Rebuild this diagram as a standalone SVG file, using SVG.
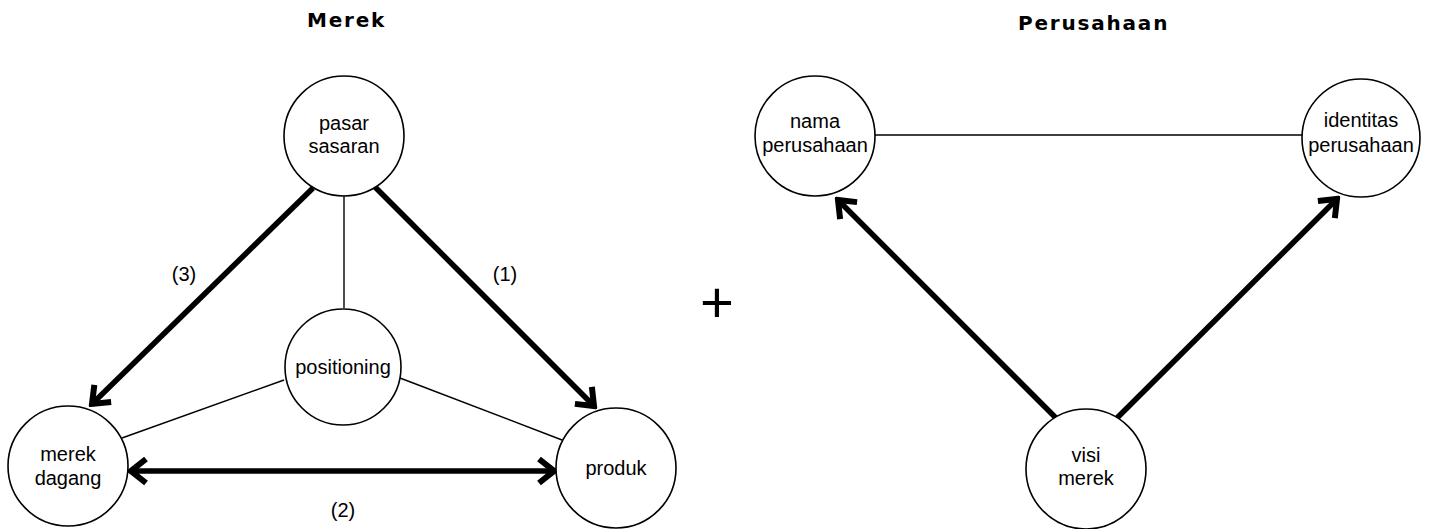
<svg xmlns="http://www.w3.org/2000/svg" width="1435" height="529" viewBox="0 0 1435 529">
  <style>
    .node circle { fill: #fff; stroke: #000; stroke-width: 1.6; }
    .node text, .lbl { font-family: "Liberation Sans", Arial, sans-serif; font-size: 20px; fill: #000; text-anchor: middle; }
    .title { font-family: "DejaVu Sans", Verdana, sans-serif; font-size: 20px; font-weight: bold; letter-spacing: 1.8px; fill: #000; }
    .thin { stroke: #000; stroke-width: 1.4; fill: none; }
    .thick { stroke: #000; stroke-width: 5.5; fill: none; }
    .arr { marker-end: url(#head); }
    .both { marker-start: url(#headStart); marker-end: url(#head); }
  </style>
  <defs>
    <marker id="head" markerUnits="userSpaceOnUse" viewBox="-24 -16 28 32" refX="0" refY="0" markerWidth="28" markerHeight="32" orient="auto">
      <path d="M-15,-12 L0,0 L-15,12" fill="none" stroke="#000" stroke-width="6" stroke-linejoin="miter" stroke-miterlimit="10"/>
    </marker>
    <marker id="headStart" markerUnits="userSpaceOnUse" viewBox="-4 -16 28 32" refX="0" refY="0" markerWidth="28" markerHeight="32" orient="auto">
      <path d="M15,-12 L0,0 L15,12" fill="none" stroke="#000" stroke-width="6" stroke-linejoin="miter" stroke-miterlimit="10"/>
    </marker>
  </defs>
  <rect width="1435" height="529" fill="#fff"/>

  <!-- titles -->
  <text class="title" x="307" y="27">Merek</text>
  <text class="title" x="1018" y="30">Perusahaan</text>

  <!-- connectors -->
  <g id="connectors">
    <line class="thin" x1="344" y1="196" x2="344" y2="308"/>
    <line class="thin" x1="284" y1="380" x2="122" y2="438"/>
    <line class="thin" x1="400" y1="378" x2="562" y2="440"/>
    <line class="thick arr" x1="313" y1="188" x2="92" y2="404"/>
    <line class="thick arr" x1="375" y1="187" x2="594" y2="406"/>
    <line class="thick both" x1="131" y1="471" x2="554" y2="471"/>
    <line class="thin" x1="875" y1="135" x2="1302" y2="135"/>
    <line class="thick arr" x1="1057" y1="419" x2="838" y2="200"/>
    <line class="thick arr" x1="1116" y1="419" x2="1337" y2="199"/>
  </g>

  <!-- edge labels -->
  <text class="lbl" x="184" y="281">(3)</text>
  <text class="lbl" x="505" y="281">(1)</text>
  <text class="lbl" x="343" y="517">(2)</text>

  <text x="717" y="322" font-family="Liberation Sans, Arial, sans-serif" font-size="58" text-anchor="middle" fill="#000">+</text>

  <!-- left triangle nodes -->
  <g id="pasar-sasaran" class="node">
    <circle cx="344" cy="136" r="60"/>
    <text x="344" y="130">pasar</text>
    <text x="344" y="153">sasaran</text>
  </g>
  <g id="positioning" class="node">
    <circle cx="343" cy="367" r="58"/>
    <text x="343" y="374">positioning</text>
  </g>
  <g id="merek-dagang" class="node">
    <circle cx="68" cy="466" r="60"/>
    <text x="68" y="461">merek</text>
    <text x="68" y="485">dagang</text>
  </g>
  <g id="produk" class="node">
    <circle cx="616" cy="468" r="60"/>
    <text x="616" y="475">produk</text>
  </g>

  <!-- right triangle nodes -->
  <g id="nama-perusahaan" class="node">
    <circle cx="815" cy="136" r="60"/>
    <text x="815" y="128">nama</text>
    <text x="815" y="152">perusahaan</text>
  </g>
  <g id="identitas-perusahaan" class="node">
    <circle cx="1361" cy="138" r="59"/>
    <text x="1361" y="127">identitas</text>
    <text x="1361" y="152">perusahaan</text>
  </g>
  <g id="visi-merek" class="node">
    <circle cx="1086" cy="469" r="60"/>
    <text x="1086" y="462">visi</text>
    <text x="1086" y="485">merek</text>
  </g>
</svg>
